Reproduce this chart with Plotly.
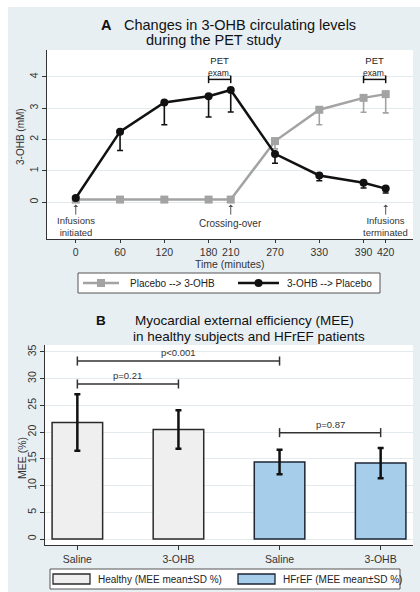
import plotly.graph_objects as go

W, H = 420, 592

# ---------------- Panel A data ----------------
time_min = [0, 60, 120, 180, 210, 270, 330, 390, 420]
placebo_to_ohb = [0.08, 0.08, 0.08, 0.08, 0.08, 1.95, 2.95, 3.33, 3.45]
placebo_to_ohb_sd_low = [0.0, 0.0, 0.0, 0.0, 0.0, 0.25, 0.48, 0.46, 0.60]
ohb_to_placebo = [0.13, 2.25, 3.18, 3.38, 3.58, 1.54, 0.85, 0.62, 0.43]
ohb_to_placebo_sd_low = [0.05, 0.60, 0.71, 0.66, 0.70, 0.30, 0.17, 0.17, 0.14]
x_ticks_a = [0, 60, 120, 180, 210, 270, 330, 390, 420]
y_ticks_a = [0, 1, 2, 3, 4]
pet_windows = [(180, 210), (390, 420)]
events = [(0, "Infusions<br>initiated"), (210, "Crossing-over"),
          (420, "Infusions<br>terminated")]

# ---------------- Panel B data ----------------
mee_labels = ["Saline", "3-OHB", "Saline", "3-OHB"]
healthy_mean = [21.8, 20.5]
healthy_sd = [5.3, 3.6]
hfref_mean = [14.4, 14.2]
hfref_sd = [2.3, 2.85]
comparisons = [(0, 2, 33.3, "p<0.001"), (0, 1, 29.0, "p=0.21"), (2, 3, 19.9, "p=0.87")]
y_ticks_b = [0, 5, 10, 15, 20, 25, 30, 35]

FONT = "Liberation Sans, Arial, sans-serif"
GRAY = "#a3a3a3"
BLACK = "#111111"
BLUE = "#a6cdea"
LIGHT = "#efefef"
BG = "#e8eff3"
AXC = "#333333"


def px(x):
    return x / W


def py(y):
    return 1 - y / H


def ptext(x, y, text, size, xanchor="center", color="#222", angle=0):
    return dict(x=px(x), y=py(y), xref="paper", yref="paper", text=text,
                showarrow=False, xanchor=xanchor, yanchor="middle", textangle=angle,
                font=dict(family=FONT, size=size, color=color))


fig = go.Figure()

# Panel A traces
fig.add_trace(go.Scatter(
    x=time_min, y=placebo_to_ohb, mode="lines+markers", name="Placebo --> 3-OHB",
    line=dict(color=GRAY, width=2.5),
    marker=dict(symbol="square", size=8, color=GRAY),
    error_y=dict(type="data", symmetric=False, array=[0] * len(time_min),
                 arrayminus=placebo_to_ohb_sd_low, color=GRAY, thickness=1.6, width=3),
    xaxis="x", yaxis="y", showlegend=False))
fig.add_trace(go.Scatter(
    x=time_min, y=ohb_to_placebo, mode="lines+markers", name="3-OHB --> Placebo",
    line=dict(color=BLACK, width=2.5),
    marker=dict(symbol="circle", size=8, color=BLACK),
    error_y=dict(type="data", symmetric=False, array=[0] * len(time_min),
                 arrayminus=ohb_to_placebo_sd_low, color=BLACK, thickness=1.6, width=3),
    xaxis="x", yaxis="y", showlegend=False))

# Panel B traces
fig.add_trace(go.Bar(
    x=[0, 1], y=healthy_mean, width=0.5, name="Healthy (MEE mean±SD %)",
    marker=dict(color=LIGHT, line=dict(color="#2a2a2a", width=1.5)),
    error_y=dict(type="data", array=healthy_sd, color=BLACK, thickness=2.5, width=3),
    xaxis="x2", yaxis="y2", showlegend=False))
fig.add_trace(go.Bar(
    x=[2, 3], y=hfref_mean, width=0.5, name="HFrEF (MEE mean±SD %)",
    marker=dict(color=BLUE, line=dict(color="#1c2636", width=1.5)),
    error_y=dict(type="data", array=hfref_sd, color=BLACK, thickness=2.5, width=3),
    xaxis="x2", yaxis="y2", showlegend=False))

shapes = []
annotations = []

# white outer strips
shapes.append(dict(type="rect", xref="paper", yref="paper", x0=0, x1=px(8), y0=0, y1=1,
                   fillcolor="white", line=dict(width=0), layer="below"))
shapes.append(dict(type="rect", xref="paper", yref="paper", x0=0, x1=1, y0=py(7), y1=1,
                   fillcolor="white", line=dict(width=0), layer="below"))

# PET exam brackets
for a, b in pet_windows:
    yb = 3.92
    shapes.append(dict(type="line", xref="x", yref="y", x0=a, x1=b, y0=yb, y1=yb,
                       line=dict(color=BLACK, width=1.5)))
    for xe in (a, b):
        shapes.append(dict(type="line", xref="x", yref="y", x0=xe, x1=xe, y0=yb - 0.12,
                           y1=yb + 0.12, line=dict(color=BLACK, width=1.5)))
    annotations.append(dict(x=(a + b) / 2, y=4.32, xref="x", yref="y",
                            text="PET<br><span style='font-size:8.5px'>exam.</span>",
                            showarrow=False, yanchor="middle",
                            font=dict(family=FONT, size=9.5, color="#222")))

# event arrows and labels
for t, label in events:
    annotations.append(dict(x=t, y=-0.08, xref="x", yref="y", ax=t, ay=-0.45,
                            axref="x", ayref="y", text="", showarrow=True,
                            arrowhead=1, arrowsize=0.8, arrowwidth=1, arrowcolor="#555"))
    two = "<br>" in label
    annotations.append(dict(x=t, y=-0.78 if two else -0.7, xref="x", yref="y", text=label,
                            showarrow=False, yanchor="middle",
                            font=dict(family=FONT, size=9.5 if two else 10, color="#333")))

# comparison brackets panel B
for a, b, yv, lab in comparisons:
    shapes.append(dict(type="line", xref="x2", yref="y2", x0=a, x1=b, y0=yv, y1=yv,
                       line=dict(color="#333", width=1.5)))
    for xe in (a, b):
        shapes.append(dict(type="line", xref="x2", yref="y2", x0=xe, x1=xe, y0=yv - 0.85,
                           y1=yv + 0.85, line=dict(color="#333", width=1.5)))
    annotations.append(dict(x=(a + b) / 2, y=yv + 1.55, xref="x2", yref="y2", text=lab,
                            showarrow=False, yanchor="middle",
                            font=dict(family=FONT, size=9.5, color="#333")))

# titles and axis titles
annotations += [
    ptext(106, 25, "<b>A</b>", 14.5, color="#111"),
    ptext(240.5, 25, "Changes in 3-OHB circulating levels", 14.5, color="#111"),
    ptext(214.5, 40, "during the PET study", 14.5, color="#111"),
    ptext(101, 320, "<b>B</b>", 13.5, color="#111"),
    ptext(244, 320, "Myocardial external efficiency (MEE)", 13.5, color="#111"),
    ptext(249, 336, "in healthy subjects and HFrEF patients", 13.5, color="#111"),
    ptext(21, 137, "3-OHB (mM)", 10, color="#333", angle=-90),
    ptext(22, 458, "MEE (%)", 10.5, color="#333", angle=-90),
    ptext(230, 264, "Time (minutes)", 10.5, color="#333"),
]

# Legend A (manual)
shapes.append(dict(type="rect", xref="paper", yref="paper", x0=px(78), x1=px(380),
                   y0=py(293), y1=py(273), fillcolor="white", line=dict(color="#555", width=1)))
shapes.append(dict(type="line", xref="paper", yref="paper", x0=px(83), x1=px(119),
                   y0=py(283), y1=py(283), line=dict(color=GRAY, width=2.5)))
shapes.append(dict(type="rect", xref="paper", yref="paper", x0=px(97), x1=px(105),
                   y0=py(287), y1=py(279), fillcolor=GRAY, line=dict(width=0)))
shapes.append(dict(type="line", xref="paper", yref="paper", x0=px(238), x1=px(279),
                   y0=py(283), y1=py(283), line=dict(color=BLACK, width=2.5)))
shapes.append(dict(type="circle", xref="paper", yref="paper", x0=px(254.5), x1=px(262.5),
                   y0=py(287), y1=py(279), fillcolor=BLACK, line=dict(width=0)))
annotations.append(ptext(128, 283, "Placebo --> 3-OHB", 10, xanchor="left"))
annotations.append(ptext(285, 283, "3-OHB --> Placebo", 10, xanchor="left"))

# Legend B (manual)
shapes.append(dict(type="rect", xref="paper", yref="paper", x0=px(50), x1=px(400),
                   y0=py(589), y1=py(569), fillcolor="white", line=dict(color="#555", width=1)))
shapes.append(dict(type="rect", xref="paper", yref="paper", x0=px(53), x1=px(90),
                   y0=py(584), y1=py(574), fillcolor=LIGHT, line=dict(color="#2a2a2a", width=1.3)))
shapes.append(dict(type="rect", xref="paper", yref="paper", x0=px(238), x1=px(275),
                   y0=py(584), y1=py(574), fillcolor=BLUE, line=dict(color="#1c2636", width=1.3)))
annotations.append(ptext(96, 579, "Healthy (MEE mean±SD %)", 10, xanchor="left"))
annotations.append(ptext(281, 579, "HFrEF (MEE mean±SD %)", 10, xanchor="left"))

axis_common = dict(showline=True, linecolor=AXC, linewidth=1, ticks="outside",
                   ticklen=4, tickcolor=AXC, zeroline=False,
                   tickfont=dict(family=FONT, size=10.5, color="#333"))

fig.update_layout(
    width=W, height=H, margin=dict(l=0, r=0, t=0, b=0),
    paper_bgcolor=BG, plot_bgcolor="white", showlegend=False,
    font=dict(family=FONT),
    xaxis=dict(domain=[px(47), px(413)], range=[-39, 457], tickvals=x_ticks_a,
               showgrid=False, anchor="y", **{**axis_common, "ticklen": 3}),
    yaxis=dict(domain=[py(239), py(50)], range=[-1.18, 4.86], tickvals=y_ticks_a,
               showgrid=True, gridcolor="#e3eaee", gridwidth=1, tickangle=-90,
               anchor="x", **axis_common),
    xaxis2=dict(domain=[px(45), px(413)], range=[-0.32, 3.32], tickvals=[0, 1, 2, 3],
                ticktext=mee_labels, showgrid=False, anchor="y2", **axis_common),
    yaxis2=dict(domain=[py(545), py(345)], range=[-1.12, 36.3], tickvals=y_ticks_b,
                showgrid=True, gridcolor="#e3eaee", gridwidth=1, tickangle=-90,
                anchor="x2", **axis_common),
    shapes=shapes, annotations=annotations,
)

fig.write_html(
    "out.html",
    config={"displayModeBar": False},
    post_script="document.body.style.margin='0';document.body.style.padding='0';"
                "document.body.style.overflow='hidden';",
)
